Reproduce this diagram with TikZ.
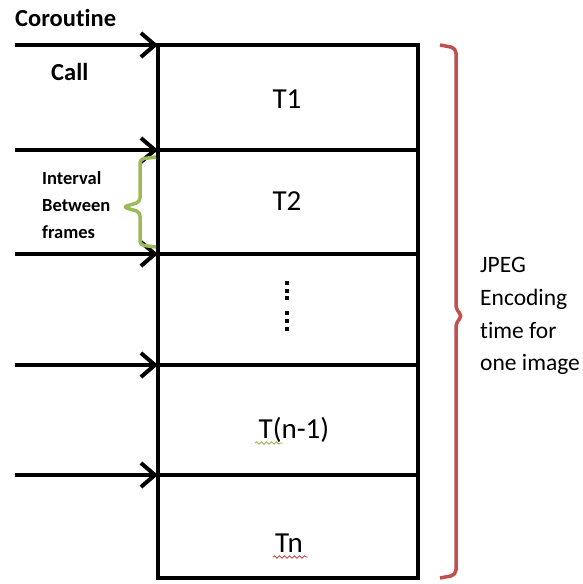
\documentclass[tikz,border=0pt]{standalone}
\usepackage{fontspec}
\setmainfont{Carlito}[Ligatures={NoCommon}]
\usetikzlibrary{arrows.meta,decorations.pathmorphing}
\definecolor{bracered}{RGB}{192,80,77}
\definecolor{bracegreen}{RGB}{155,187,89}
\begin{document}
\begin{tikzpicture}[x=1pt,y=-1pt,
  frame/.style={line width=4.5pt},
  callarrow/.style={line width=4.5pt,-{Straight Barb[length=14pt,width=24pt,line width=4pt]}},
  lbl/.style={font=\fontsize{24.5}{24.5}\selectfont\bfseries,anchor=base west,inner sep=0pt},
  small/.style={font=\fontsize{18.5}{18.5}\selectfont\bfseries,anchor=base west,inner sep=0pt},
  tlbl/.style={font=\fontsize{29}{29}\selectfont,anchor=base,inner sep=0pt},
  rlbl/.style={font=\fontsize{23.5}{23.5}\selectfont,anchor=base west,inner sep=0pt},
  squig/.style={line width=0.9pt,decorate,decoration={snake,amplitude=1.2pt,segment length=5pt}},
  dotmark/.style={fill=black,inner sep=0pt,minimum size=4pt,rectangle}]
\useasboundingbox (0,0) rectangle (582,584);
% frame
\coordinate (b0) at (158,45);
\coordinate (b1) at (158,150);
\coordinate (b2) at (158,254);
\coordinate (b3) at (158,365);
\coordinate (b4) at (158,475);
\coordinate (b5) at (158,578);
\coordinate (e0) at (418,45);
\coordinate (e1) at (418,150);
\coordinate (e2) at (418,254);
\coordinate (e3) at (418,365);
\coordinate (e4) at (418,475);
\coordinate (e5) at (418,578);
\draw[frame] (b0) rectangle (e5);
\foreach \i in {1,2,3,4} \draw[frame] (b\i) -- (e\i);
% arrows
\foreach \i/\y in {0/45,1/150,2/254,3/365,4/475} {
  \coordinate (s\i) at (15,\y);
  \draw[callarrow] (s\i) -- (b\i);
}
% labels
\node[lbl] (coro) at (15,26) {Coroutine};
\node[lbl] (call) at (51,80) {Call};
\node[small] (iv1) at (42,184) {Interval};
\node[small] (iv2) at (42,211) {Between};
\node[small] (iv3) at (42,238) {frames};
\node[tlbl] (t1) at (287,108) {T1};
\node[tlbl] (t2) at (287,210) {T2};
\node[tlbl] (tn1) at (294,438) {T(n-1)};
\node[tlbl] (tn) at (289,552) {Tn};
\foreach \y in {283,291,298,313,321,329} \node[dotmark] at (287,\y) {};
% squiggles
\draw[bracegreen,squig] (255,443) -- (283,443);
\draw[bracered,squig] (273,557) -- (308,557);
% green brace
\draw[bracegreen,line width=3.5pt,rounded corners=4pt,line join=round]
  (156,157) -- (140,159) -- (140,202) -- (123,207) -- (140,212) -- (140,245) -- (156,247);
% red brace
\draw[bracered,line width=3.5pt,rounded corners=5pt,line join=round]
  (440,45) -- (456,48) -- (456,310) -- (463,316) -- (456,322) -- (456,575) -- (440,578);
% right text
\node[rlbl] (r1) at (480,272) {JPEG};
\node[rlbl] (r2) at (480,305) {Encoding};
\node[rlbl] (r3) at (480,338) {time for};
\node[rlbl] (r4) at (480,370) {one image};
\end{tikzpicture}
\end{document}
